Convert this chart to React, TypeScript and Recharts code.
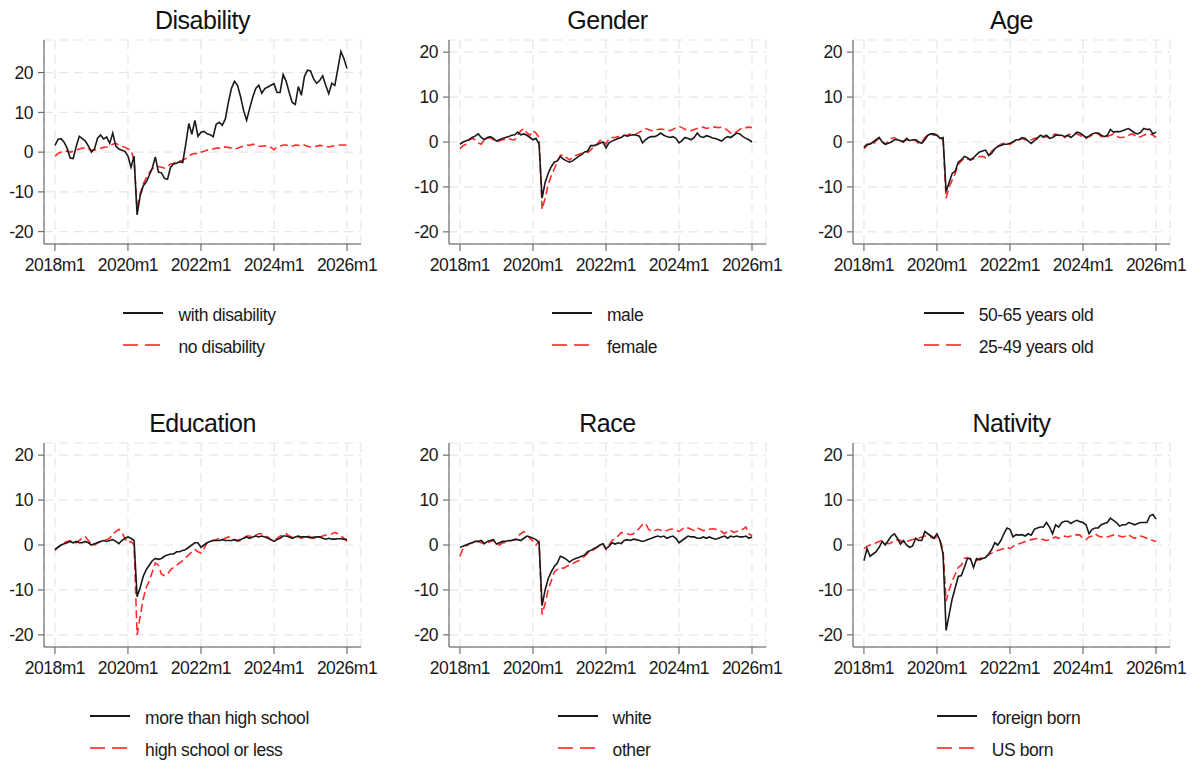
import { LineChart, Line, XAxis, YAxis, CartesianGrid } from "recharts";

// monthly values, 2018m1 .. 2026m1
const disabilityWith = [
  1.7, 3.2, 3.4, 2.5, 1.0, -1.5, -1.6, 1.5, 4.0, 3.4, 2.8, 1.5,
  0.0, 0.8, 3.5, 4.3, 3.3, 3.8, 2.2, 4.8, 1.5, 0.8, 0.5, 0.2,
  -1.0, -3.8, -1.0, -15.8, -11.0, -8.5, -7.5, -5.8, -4.0, -1.2, -5.0, -5.2,
  -6.6, -6.8, -3.8, -3.0, -2.8, -2.4, -2.6, 2.0, 7.2, 4.5, 8.0, 4.0,
  5.0, 5.2, 4.6, 4.4, 3.9, 7.0, 7.5, 6.8, 8.3, 12.5, 16.0, 17.8,
  16.8, 14.0, 10.5, 8.0, 11.0, 13.8, 16.0, 16.8, 14.8, 16.0, 16.4, 16.8,
  17.2, 15.0, 15.0, 19.5, 17.8, 15.0, 12.5, 12.0, 16.5, 14.3, 19.0, 20.6,
  20.4, 18.5, 17.3, 18.0, 19.2, 16.8, 14.7, 17.3, 16.8, 21.0, 25.3, 23.5,
  21.0,
];
const disabilityNo = [
  -1.0, -0.3, 0.0, 0.0, 0.3, 0.0, 0.2, 0.5, 0.8, 1.0, 1.0, 0.8,
  0.5, 0.5, 0.8, 1.0, 1.2, 1.3, 1.5, 2.0, 2.2, 1.8, 1.5, 1.2,
  0.8, 0.5, -2.0, -14.5, -10.5, -8.0, -6.5, -5.2, -4.2, -3.5, -3.6, -3.8,
  -4.0, -3.5, -3.0, -2.8, -2.5, -2.3, -2.0, -1.6, -1.0, -0.5, -0.3, -0.5,
  0.0, 0.2, 0.5, 0.7, 0.8, 1.0, 1.0, 1.2, 1.3, 1.2, 1.0, 0.8,
  1.0, 1.3, 1.5, 1.8, 1.7, 2.0, 1.8, 1.5, 1.5, 1.6, 1.5, 1.2,
  0.6, 1.3, 1.5, 1.8, 1.8, 1.6, 1.5, 1.8, 1.7, 1.6, 1.8, 1.5,
  1.3, 1.3, 1.5, 1.7, 1.6, 1.5, 1.3, 1.5, 1.6, 1.7, 1.8, 1.8,
  1.8,
];

const genderMale = [
  -0.5, 0.0, 0.3, 0.5, 1.0, 1.3, 1.8, 1.0, 0.5, 1.0, 1.2, 0.8,
  0.2, 0.5, 0.8, 1.0, 1.2, 1.5, 1.6, 2.2, 1.6, 1.8, 1.5, 1.0,
  0.5, 0.8, -0.5, -12.5, -9.0, -7.0, -5.5, -4.5, -4.2, -3.2, -3.8, -4.2,
  -4.5, -4.2, -3.7, -3.2, -2.8, -2.2, -2.0, -0.8, -0.8, -0.6, -0.3, 0.0,
  -1.3, -0.2, 0.2, 0.5, 0.8, 1.0, 1.5, 1.3, 1.5, 1.6, 1.5, 1.3,
  -0.2, 0.5, 1.0, 1.2, 1.2, 1.5, 2.0, 1.5, 1.2, 1.0, 1.2, 0.8,
  -0.2, 0.3, 1.0, 0.8, 0.5, 1.0, 2.0, 1.2, 1.0, 1.4, 1.2, 0.9,
  0.8, 0.5, 0.2, 0.8, 1.2, 1.0, 1.5, 2.0, 1.8, 1.2, 0.8, 0.5,
  0.0,
];
const genderFemale = [
  -1.5, -0.8, -0.5, 0.5, 0.8, 0.5, -0.2, -0.5, 0.5, 0.8, 1.0, 0.5,
  0.0, 0.3, 0.5, 0.6, 0.8, 0.5, 0.5, 1.5, 2.5, 3.0, 2.0, 1.5,
  2.5, 2.0, 1.0, -15.0, -12.5, -9.5, -7.5, -6.0, -4.5, -3.0, -2.8, -3.5,
  -4.0, -3.5, -3.0, -2.8, -2.5, -2.3, -2.3, -1.8, -1.0, -0.5, 0.3, 0.5,
  -0.5, 0.8, 1.0, 1.0, 1.2, 1.3, 1.5, 1.5, 1.8, 1.6, 1.8, 2.2,
  2.5, 3.0, 2.8, 2.5, 2.6, 2.8, 2.9, 2.8, 2.6, 2.5, 2.8, 3.2,
  3.5, 3.2, 2.8, 2.7, 2.5, 2.8, 3.0, 3.2, 3.3, 3.0, 3.2, 3.3,
  3.3, 3.2, 3.3, 3.0, 2.6, 2.0, 1.8, 2.3, 2.8, 3.2, 3.2, 3.3,
  3.2,
];

const ageOld = [
  -1.2, -0.5, -0.5, 0.0, 0.5, 1.0, 0.0, -0.5, -0.3, 0.0, 0.5, 0.5,
  0.3, 0.0, 0.8, 0.3, 0.5, 0.5, 0.0, -0.3, 0.5, 1.5, 1.8, 1.8,
  1.5, 0.8, 1.0, -11.0, -9.0, -7.0, -6.5, -4.5, -4.0, -3.2, -3.5, -4.0,
  -3.5, -2.8, -2.2, -2.0, -1.8, -3.0, -2.5, -1.5, -1.0, -0.8, -0.5, -0.5,
  -0.3, 0.0, 0.5, 0.5, 1.0, 0.8, 0.2, -0.3, 0.3, 0.8, 1.5, 1.2,
  1.5, 0.8, 1.0, 1.5, 1.5, 1.5, 1.2, 1.5, 1.0, 1.5, 2.2, 2.0,
  1.5, 1.0, 1.3, 1.8, 2.0, 2.0, 1.5, 1.2, 1.5, 2.8, 2.2, 2.3,
  2.3, 2.5, 2.8, 3.0, 2.5, 2.0, 1.8, 2.2, 3.0, 2.8, 2.8, 1.8,
  2.2,
];
const ageYoung = [
  -1.5, -0.8, -0.3, -0.5, 0.3, 0.8, 0.0, -0.5, 0.2, 0.8, 1.0, 0.5,
  0.0, 0.3, 0.5, 0.2, 0.5, 0.3, -0.3, 0.0, 1.0, 1.5, 1.8, 1.5,
  1.5, 1.0, 0.5, -12.5, -10.0, -8.5, -7.0, -5.0, -4.2, -3.5, -3.8, -4.0,
  -3.8, -3.5, -3.3, -3.2, -3.5, -3.0, -2.0, -1.5, -1.0, -0.5, -0.3, -0.3,
  -0.5, 0.0, 0.3, 0.5, 0.8, 0.5, 0.3, 0.5, 0.8, 1.0, 1.2, 1.0,
  1.2, 1.0, 1.5, 1.8, 1.5, 1.2, 1.0, 1.5, 1.8, 2.0, 1.8, 1.5,
  1.0, 0.8, 1.2, 1.5, 2.0, 1.8, 1.2, 1.0, 1.2, 1.5, 1.8, 1.3,
  1.0, 1.0, 1.2, 1.5, 1.8, 1.5, 1.0, 1.2, 1.5, 1.8, 1.8, 1.5,
  1.0,
];

const eduMore = [
  -1.0, -0.5, 0.0, 0.3, 0.5, 0.8, 0.5, 0.8, 0.5, 0.5, 0.8, 0.5,
  0.0, 0.3, 0.5, 0.8, 1.0, 0.8, 1.0, 1.2, 0.8, 0.3, 1.0, 1.5,
  1.8, 1.5, 1.0, -11.5, -9.5, -7.0, -5.5, -4.5, -3.5, -3.0, -3.2, -3.0,
  -2.5, -2.2, -2.0, -2.0, -1.5, -1.5, -1.2, -1.0, -0.5, 0.0, 0.5, 0.5,
  -0.5, 0.0, 0.5, 0.8, 1.0, 1.0, 1.0, 1.2, 1.0, 1.0, 1.0, 1.2,
  1.0, 1.2, 1.5, 1.8, 1.5, 1.8, 2.0, 1.8, 2.0, 1.8, 1.5, 1.2,
  0.8, 1.2, 1.5, 2.0, 2.0, 1.8, 1.5, 1.8, 2.0, 1.8, 1.8, 1.8,
  1.6, 1.7, 1.8, 1.8, 1.5, 1.3, 1.5, 1.3, 1.3, 1.4, 1.4, 1.3,
  1.2,
];
const eduLess = [
  -1.2, -0.5, 0.0, 0.5, 0.8, 1.0, 0.5, 0.5, 1.0, 1.5, 1.8, 1.0,
  0.3, 0.0, 0.5, 0.8, 1.0, 1.2, 1.5, 2.5, 3.0, 3.5, 2.8, 1.5,
  0.5, 0.8, 0.0, -20.0, -16.0, -12.0, -9.5, -8.0, -6.0, -4.0, -4.5, -6.5,
  -6.8, -6.5, -5.5, -5.0, -4.5, -4.0, -3.5, -2.8, -2.2, -1.5, -1.0, -1.5,
  -1.8, -0.8, 0.5, 0.8, 1.0, 1.2, 1.5, 1.2, 1.5, 1.8, 1.5, 1.2,
  0.8, 1.0, 1.5, 2.0, 2.0, 1.8, 2.2, 2.5, 2.5, 2.0, 1.8, 1.2,
  0.8, 1.5, 2.0, 2.2, 2.5, 2.0, 1.8, 2.0, 1.8, 1.5, 1.8, 2.0,
  1.8, 1.5, 1.5, 1.8, 2.0, 2.2, 2.3, 2.5, 2.8, 2.5, 2.0, 1.5,
  0.8,
];

const raceWhite = [
  -0.5, -0.3, 0.0, 0.3, 0.5, 0.8, 0.8, 1.0, 0.3, 0.8, 1.0, 1.2,
  0.2, 0.5, 0.8, 0.8, 1.0, 1.0, 1.2, 1.2, 1.0, 1.5, 2.0, 1.8,
  1.5, 1.2, 0.5, -13.5, -10.0, -7.5, -6.0, -4.8, -4.0, -2.5, -2.8, -3.2,
  -3.8, -3.3, -3.0, -2.8, -2.5, -2.2, -1.5, -1.2, -0.8, -0.5, 0.0, 0.3,
  -0.8, -0.3, 0.5, 0.2, 0.5, 0.3, 1.0, 1.2, 1.0, 1.3, 1.2, 1.0,
  0.8, 1.0, 1.3, 1.5, 1.8, 2.0, 1.8, 2.0, 1.5, 1.8, 2.0, 1.5,
  0.5, 1.0, 1.5, 2.0, 1.8, 1.8, 1.5, 1.5, 1.8, 1.5, 1.8, 1.5,
  1.3, 1.5, 1.8, 2.0, 1.5, 2.0, 1.8, 2.0, 1.8, 1.8, 2.0, 1.5,
  1.8,
];
const raceOther = [
  -2.5, -0.8, -0.3, 0.3, 0.5, 0.8, 0.8, 0.5, 0.3, 0.5, 0.8, 1.0,
  0.2, 0.0, 0.5, 0.5, 0.8, 1.0, 1.2, 2.0, 2.5, 3.0, 2.2, 1.5,
  0.8, 0.0, 0.8, -15.5, -13.0, -10.0, -8.0, -6.0, -5.5, -5.0, -5.2, -4.8,
  -4.5, -4.2, -3.8, -3.5, -3.0, -2.5, -1.8, -1.5, -1.0, -0.5, 0.0, 0.2,
  -1.0, 0.0, 1.0, 1.5, 2.0, 2.8, 2.5, 2.5, 2.3, 2.5, 3.0, 3.8,
  4.5, 4.8, 3.5, 3.0, 3.2, 3.5, 3.3, 3.0, 3.2, 3.5, 3.5, 3.3,
  3.0, 3.5, 4.0, 3.8, 3.5, 3.2, 3.8, 3.5, 3.2, 3.3, 3.5, 3.6,
  3.5, 3.3, 3.0, 2.5, 3.0, 3.2, 2.8, 3.0, 3.3, 3.5, 4.0, 2.5,
  2.0,
];

const nativityForeign = [
  -3.5, -0.8, -2.5, -2.0, -1.5, -0.5, 0.8, 0.0, 1.0, 2.0, 2.5, 1.5,
  0.2, 1.0, 0.0, -0.5, -0.2, 1.5, 1.0, 1.0, 3.0, 2.5, 2.0, 1.5,
  2.5, 1.0, -2.0, -19.0, -15.5, -12.0, -9.5, -7.0, -6.8, -5.0, -3.0, -3.0,
  -5.0, -3.0, -3.3, -3.0, -2.8, -2.0, -1.0, 0.5, 0.0, 1.0, 2.5, 3.8,
  3.5, 1.8, 2.3, 2.2, 2.3, 2.0, 2.5, 2.2, 3.5, 3.8, 4.0, 4.0,
  5.0, 4.0, 2.5, 4.5, 4.0, 5.0, 5.3, 5.3, 4.8, 5.2, 5.5, 5.2,
  5.0, 4.5, 2.5, 3.5, 3.8, 3.8, 4.5, 4.8, 5.0, 6.0, 5.5, 5.0,
  4.2, 4.5, 4.5, 5.0, 4.8, 4.5, 4.8, 5.0, 5.0, 5.0, 6.5, 6.8,
  5.8,
];
const nativityUS = [
  -0.8, -0.3, 0.0, 0.2, 0.5, 0.8, 1.0, 0.5, 0.3, 0.5, 1.0, 1.2,
  1.0, 0.5, 0.8, 1.0, 1.2, 1.5, 1.5, 1.8, 2.0, 2.0, 1.8, 1.5,
  1.8, 1.0, -1.0, -12.5, -10.0, -8.0, -6.5, -5.0, -4.5, -3.0, -2.8, -3.2,
  -3.5, -3.5, -3.0, -2.8, -2.5, -2.2, -1.8, -1.5, -1.2, -1.0, -0.8, -0.5,
  -0.8, -0.3, 0.0, 0.3, 0.5, 0.8, 1.0, 1.2, 1.3, 1.5, 1.3, 1.2,
  1.0, 1.2, 1.5, 1.8, 1.5, 1.8, 2.0, 1.8, 2.0, 2.2, 2.3, 2.2,
  1.5, 1.2, 1.8, 2.0, 2.5, 2.0, 1.8, 2.0, 1.8, 2.0, 2.2, 2.3,
  2.0, 1.8, 2.0, 2.3, 1.8, 1.5, 1.8, 2.0, 1.8, 1.5, 1.2, 1.0,
  0.8,
];

const xTicks = [0, 24, 48, 72, 96];
const xTickLabels = ["2018m1", "2020m1", "2022m1", "2024m1", "2026m1"];
const yTicks = [-20, -10, 0, 10, 20];

const FONT = "'Liberation Sans', Arial, Helvetica, sans-serif";
const BLACK = "#1a1a1a";
const RED = "#ff2b2b";

type PanelProps = {
  title: string;
  solid: number[];
  dashed: number[];
  solidName: string;
  dashedName: string;
  x0: number;
  y0: number;
  yDomain: [number, number];
};

const PLOT_W = 317;
const PLOT_H = 204;
const ML = 60;
const MT = 10;
const MR = 30;
const MB = 40;

const tickStyle = { fill: "#1a1a1a", fontSize: 17.5, fontFamily: FONT, letterSpacing: -0.5 };

const Panel = ({ title, solid, dashed, solidName, dashedName, x0, y0, yDomain }: PanelProps) => {
  const data = solid.map((v, i) => ({ m: i, a: v, b: dashed[i] }));
  const cx = x0 + PLOT_W / 2;
  return (
    <>
      <div
        style={{
          position: "absolute",
          left: cx - 150,
          width: 300,
          top: y0 - 35,
          textAlign: "center",
          fontSize: 25,
          letterSpacing: -0.5,
          color: "#111",
          lineHeight: "30px",
        }}
      >
        {title}
      </div>
      <div style={{ position: "absolute", left: x0 - ML, top: y0 - MT }}>
        <LineChart
          width={PLOT_W + ML + MR}
          height={PLOT_H + MT + MB}
          data={data}
          margin={{ top: MT, right: MR, left: 0, bottom: 0 }}
        >
          <CartesianGrid stroke="#e6e6e6" strokeDasharray="9 6" strokeWidth={1.2} />
          <XAxis
            dataKey="m"
            type="number"
            domain={[-3.6, 100.6]}
            allowDataOverflow
            ticks={xTicks}
            tickFormatter={(v: number) => xTickLabels[xTicks.indexOf(v)]}
            height={MB}
            stroke="#555"
            tickSize={7}
            tick={tickStyle}
            tickMargin={8}
            interval={0}
          />
          <YAxis
            type="number"
            domain={yDomain}
            allowDataOverflow
            ticks={yTicks}
            width={ML}
            stroke="#555"
            tickSize={6}
            tick={tickStyle}
            tickMargin={5}
            interval={0}
          />
          <Line
            dataKey="b"
            type="linear"
            stroke={RED}
            strokeWidth={1.6}
            strokeDasharray="8 4"
            dot={false}
            isAnimationActive={false}
          />
          <Line
            dataKey="a"
            type="linear"
            stroke={BLACK}
            strokeWidth={1.6}
            dot={false}
            isAnimationActive={false}
          />
        </LineChart>
      </div>
      <div
        style={{
          position: "absolute",
          left: cx - 203,
          width: 400,
          top: y0 + 264,
          display: "flex",
          justifyContent: "center",
        }}
      >
        <div style={{ display: "flex", flexDirection: "column", gap: 10 }}>
          {[
            { name: solidName, color: BLACK, dash: undefined },
            { name: dashedName, color: "#ff5050", dash: "15 7" },
          ].map((row) => (
            <div key={row.name} style={{ display: "flex", alignItems: "center", height: 22 }}>
              <svg width={40} height={10} style={{ marginRight: 15, marginTop: -5 }}>
                <line x1={0} y1={5} x2={40} y2={5} stroke={row.color} strokeWidth={1.8} strokeDasharray={row.dash} />
              </svg>
              <span style={{ fontSize: 17.5, letterSpacing: -0.4, color: "#1a1a1a" }}>{row.name}</span>
            </div>
          ))}
        </div>
      </div>
    </>
  );
};

export default function App() {
  return (
    <div
      style={{
        position: "absolute",
        left: 0,
        top: 0,
        width: 1198,
        height: 761,
        background: "#fff",
        fontFamily: FONT,
      }}
    >
      <Panel title="Disability" solid={disabilityWith} dashed={disabilityNo} solidName="with disability" dashedName="no disability" x0={44} y0={40} yDomain={[-23.1, 28.2]} />
      <Panel title="Gender" solid={genderMale} dashed={genderFemale} solidName="male" dashedName="female" x0={449} y0={40} yDomain={[-22.7, 22.7]} />
      <Panel title="Age" solid={ageOld} dashed={ageYoung} solidName="50-65 years old" dashedName="25-49 years old" x0={853} y0={40} yDomain={[-22.7, 22.7]} />
      <Panel title="Education" solid={eduMore} dashed={eduLess} solidName="more than high school" dashedName="high school or less" x0={44} y0={443} yDomain={[-22.7, 22.7]} />
      <Panel title="Race" solid={raceWhite} dashed={raceOther} solidName="white" dashedName="other" x0={449} y0={443} yDomain={[-22.7, 22.7]} />
      <Panel title="Nativity" solid={nativityForeign} dashed={nativityUS} solidName="foreign born" dashedName="US born" x0={853} y0={443} yDomain={[-22.7, 22.7]} />
    </div>
  );
}
